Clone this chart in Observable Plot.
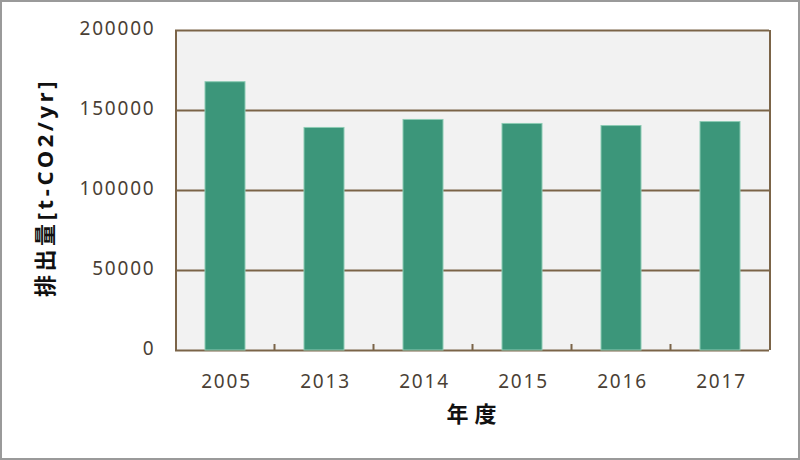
<!DOCTYPE html>
<html>
<head>
<meta charset="utf-8">
<script src="https://cdn.jsdelivr.net/npm/d3@7"></script>
<script src="https://cdn.jsdelivr.net/npm/@observablehq/plot@0.6"></script>
<style>
  html, body { margin: 0; padding: 0; background: #fff; }
  #chart svg { display: block; outline: 2px solid #9a9a9a; outline-offset: -2px; }
  #chart g[aria-label="y-axis tick label"] text,
  #chart g[aria-label="x-axis tick label"] text { letter-spacing: 1.8px; }
  #chart [aria-label="ytitle"], #chart [aria-label="ytitle"] text { letter-spacing: 3.6px; }
  #chart [aria-label="xtitle"], #chart [aria-label="xtitle"] text { letter-spacing: 6px; }
</style>
</head>
<body>
<div id="chart"></div>
<script>
const years = ["2005", "2013", "2014", "2015", "2016", "2017"];
const emissions = [168000, 139400, 144400, 141900, 140600, 143100];
const yTicks = [0, 50000, 100000, 150000, 200000];
const xTitle = "年度";
const yTitle = "排出量[t-CO2/yr]";

const data = years.map((y, i) => ({ year: y, value: emissions[i] }));

const W = 800, H = 460;
const mL = 175, mR = 31, mT = 30, mB = 110;
const step = (W - mL - mR) / years.length;

const gridColor = "#7b6448";
const labelColor = "#4a3f35";
const font = "'Noto Sans', 'Noto Sans CJK JP', sans-serif";

// short upward ticks on the bottom axis at the band boundaries
function boundaryTicks(index, scales, values, dims) {
  const g = d3.create("svg:g").attr("aria-label", "boundary ticks");
  const bw = scales.x.bandwidth ? scales.x.bandwidth() : 0;
  const y0 = scales.y(0);
  for (let i = 0; i < years.length - 1; i++) {
    const a = scales.x(years[i]) + bw / 2;
    const b = scales.x(years[i + 1]) + bw / 2;
    const xm = (a + b) / 2;
    g.append("line")
      .attr("x1", xm).attr("x2", xm)
      .attr("y1", y0).attr("y2", y0 - 6)
      .attr("stroke", gridColor).attr("stroke-width", 2);
  }
  return g.node();
}

const chart = Plot.plot({
  width: W,
  height: H,
  marginLeft: mL,
  marginRight: mR,
  marginTop: mT,
  marginBottom: mB,
  style: { fontFamily: font, background: "#fff", overflow: "visible" },
  x: { domain: years, paddingInner: 0.6, paddingOuter: 0.3, label: null },
  y: { domain: [0, 200000], label: null },
  marks: [
    Plot.frame({ fill: "#f2f2f2", stroke: null }),
    Plot.ruleY(yTicks, { stroke: gridColor, strokeWidth: 2 }),
    Plot.ruleX([0], { x: () => years[0], dx: -step / 2 , y1: 0, y2: 200000, stroke: gridColor, strokeWidth: 2 }),
    Plot.ruleX([0], { x: () => years[years.length - 1], dx: step / 2, y1: 0, y2: 200000, stroke: gridColor, strokeWidth: 2 }),
    Plot.barY(data, { x: "year", y: "value", fill: "#3c967a", stroke: "#8ccbb4", strokeWidth: 1, insetTop: 0.5 }),
    boundaryTicks,
    Plot.axisY(yTicks, {
      tickSize: 0, tickPadding: 20, fontSize: 19, fill: labelColor,
      label: null, tickFormat: d => String(d), dy: -2
    }),
    Plot.axisX({ tickSize: 0, tickPadding: 24, fontSize: 19, fill: labelColor, label: null, dx: 1 }),
    Plot.text([xTitle], { ariaLabel: () => "xtitle", frameAnchor: "bottom", text: d => d, dy: 71, dx: 2, fontSize: 22, fill: "#111", fontWeight: "bold" }),
    Plot.text([yTitle], { ariaLabel: () => "ytitle", frameAnchor: "left", textAnchor: "middle", text: d => d, dx: -130, dy: -3, rotate: -90, fontSize: 22, fill: "#111", fontWeight: "bold" })
  ]
});

document.getElementById("chart").appendChild(chart);
</script>
</body>
</html>
